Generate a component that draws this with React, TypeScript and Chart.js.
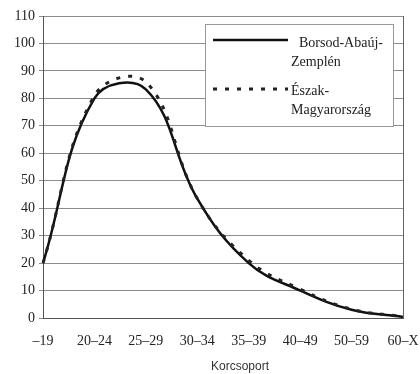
import React, { useEffect, useRef } from "react";
import { Chart, registerables } from "chart.js";

Chart.register(...registerables);

const categories = ["–19", "20–24", "25–29", "30–34", "35–39", "40–49", "50–59", "60–X"];
const borsodValues = [20, 80, 83.3, 43.5, 20, 10, 3, 0.4];
const eszakValues = [20, 81, 86, 43.5, 21, 10.5, 3.2, 0.5];
const seriesNames = ["Borsod-Abaúj-|Zemplén", "Észak-|Magyarország"];
const axisTitle = "Korcsoport";
const yMin = 0;
const yMax = 110;
const yStep = 10;

const SERIF = '"Liberation Serif", "Times New Roman", serif';

const legendPlugin = {
  id: "customLegend",
  afterDraw(chart: any) {
    const ctx = chart.ctx;
    const area = chart.chartArea;
    ctx.save();
    // right border of plot
    ctx.strokeStyle = "#666";
    ctx.lineWidth = 1;
    ctx.beginPath();
    ctx.moveTo(Math.round(area.right) + 0.5, area.top);
    ctx.lineTo(Math.round(area.right) + 0.5, area.bottom);
    ctx.stroke();

    // legend box
    const bx = 205, by = 24, bw = 188, bh = 102;
    ctx.fillStyle = "#fff";
    ctx.fillRect(bx, by, bw, bh);
    ctx.strokeStyle = "#999";
    ctx.lineWidth = 1;
    ctx.strokeRect(bx + 0.5, by + 0.5, bw, bh);

    // solid sample
    ctx.strokeStyle = "#111";
    ctx.lineWidth = 2.5;
    ctx.setLineDash([]);
    ctx.beginPath();
    ctx.moveTo(213, 40);
    ctx.lineTo(288, 40);
    ctx.stroke();

    // dashed sample
    ctx.strokeStyle = "#222";
    ctx.lineWidth = 3;
    ctx.setLineDash([4, 8]);
    ctx.beginPath();
    ctx.moveTo(213, 89);
    ctx.lineTo(288, 89);
    ctx.stroke();
    ctx.setLineDash([]);

    ctx.fillStyle = "#222";
    ctx.font = "14px " + SERIF;
    ctx.textBaseline = "middle";
    ctx.textAlign = "left";
    const [a1, a2] = seriesNames[0].split("|");
    const [b1, b2] = seriesNames[1].split("|");
    ctx.fillText(a1, 299, 43);
    ctx.fillText(a2, 291, 62);
    ctx.fillText(b1, 291, 91);
    ctx.fillText(b2, 291, 110);

    // axis title
    ctx.font = '12px "Liberation Sans", Arial, sans-serif';
    ctx.textAlign = "center";
    ctx.fillStyle = "#333";
    ctx.fillText(axisTitle, 240, 367);
    ctx.restore();
  },
};

export default function App() {
  const ref = useRef<HTMLCanvasElement | null>(null);
  useEffect(() => {
    if (!ref.current) return;
    const chart = new Chart(ref.current, {
      type: "line",
      data: {
        labels: categories,
        datasets: [
          {
            label: seriesNames[1],
            data: eszakValues,
            borderColor: "#222",
            borderWidth: 3,
            borderDash: [4, 8],
            pointRadius: 0,
            tension: 0.4,
            fill: false,
            order: 0,
          },
          {
            label: seriesNames[0],
            data: borsodValues,
            borderColor: "#111",
            borderWidth: 2.5,
            pointRadius: 0,
            tension: 0.4,
            fill: false,
            order: 1,
          },
        ],
      },
      options: {
        responsive: false,
        animation: false,
        events: [],
        layout: { padding: { top: 16, right: 17, left: 0, bottom: 0 } },
        plugins: { legend: { display: false }, tooltip: { enabled: false }, title: { display: false } },
        scales: {
          x: {
            type: "category",
            offset: false,
            grid: { display: false, drawTicks: false },
            border: { display: true, color: "#555", width: 1 },
            ticks: {
              font: { family: SERIF, size: 14 },
              color: "#222",
              padding: 15,
              maxRotation: 0,
              autoSkip: false,
            },
            afterFit: (s: any) => {
              s.height = 56;
              s.paddingRight = 0;
              s.paddingLeft = 0;
            },
          },
          y: {
            min: yMin,
            max: yMax,
            grid: { color: "#8c8c8c", lineWidth: 1, drawTicks: true, tickLength: 4 },
            border: { display: true, color: "#555", width: 1 },
            ticks: {
              stepSize: yStep,
              font: { family: SERIF, size: 14 },
              color: "#222",
              padding: 4,
            },
            afterFit: (s: any) => {
              s.width = 43;
            },
          },
        },
      },
      plugins: [legendPlugin],
    });
    return () => chart.destroy();
  }, []);
  return (
    <canvas
      ref={ref}
      width={420}
      height={374}
      style={{ position: "absolute", left: 0, top: 0, width: 420, height: 374 }}
    />
  );
}
